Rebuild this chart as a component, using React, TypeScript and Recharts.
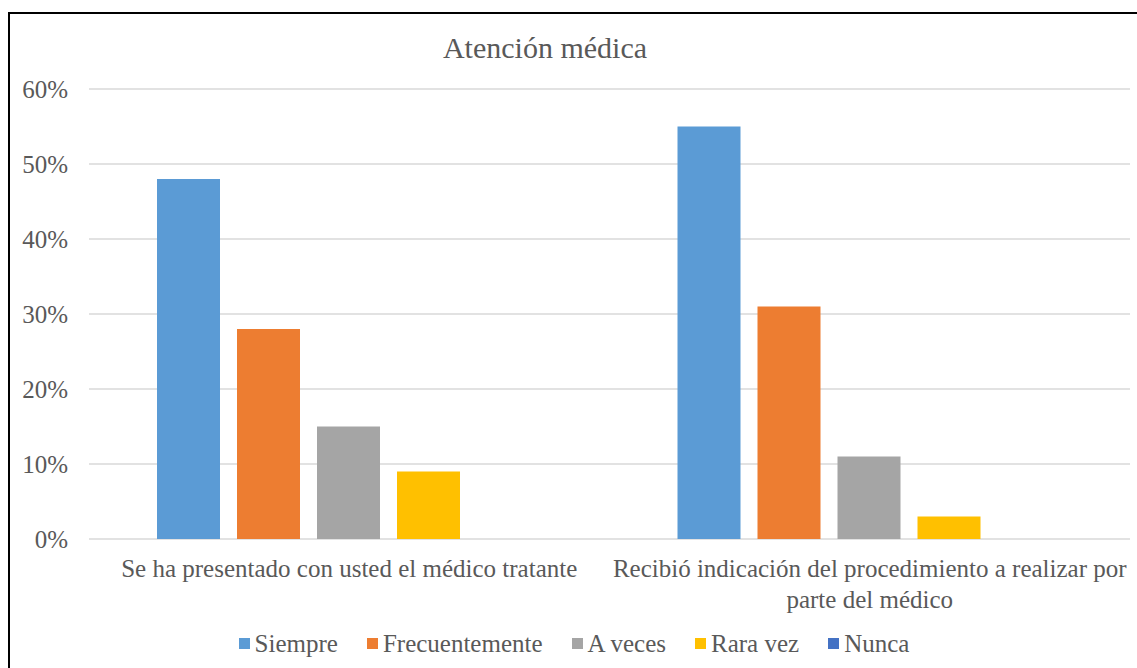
import { Bar, BarChart, CartesianGrid, Customized, Legend, XAxis, YAxis } from 'recharts'

const FONT = 'Liberation Serif, Tinos, Times New Roman, DejaVu Serif, serif'
const TEXT = '#595959'

// categories and the way their labels break into lines
const categories = [
  'Se ha presentado con usted el médico tratante',
  'Recibió indicación del procedimiento a realizar por parte del médico',
]
const categoryLines = [
  ['Se ha presentado con usted el médico tratante'],
  ['Recibió indicación del procedimiento a realizar por', 'parte del médico'],
]

// values in %
const siempre = [48, 55]
const frecuentemente = [28, 31]
const aVeces = [15, 11]
const raraVez = [9, 3]
const nunca = [0, 0]

const yTicks = [0, 10, 20, 30, 40, 50, 60]

const series = [
  { key: 'siempre', name: 'Siempre', color: '#5B9BD5', values: siempre },
  { key: 'frecuentemente', name: 'Frecuentemente', color: '#ED7D31', values: frecuentemente },
  { key: 'aVeces', name: 'A veces', color: '#A5A5A5', values: aVeces },
  { key: 'raraVez', name: 'Rara vez', color: '#FFC000', values: raraVez },
  { key: 'nunca', name: 'Nunca', color: '#4472C4', values: nunca },
]

const data = categories.map((name, i) => {
  const row: Record<string, string | number> = { name }
  series.forEach((s) => { row[s.key] = s.values[i] })
  return row
})

const CategoryTick = ({ x, y, payload }: any) => {
  const idx = categories.indexOf(payload.value)
  const lines = idx >= 0 ? categoryLines[idx] : [payload.value]
  return (
    <text x={x} y={y} textAnchor="middle" fill={TEXT} style={{ fontFamily: FONT, fontSize: 25 }}>
      {lines.map((l, i) => (
        <tspan key={i} x={x} dy={i === 0 ? 30 : 31}>{l}</tspan>
      ))}
    </text>
  )
}

const LegendContent = () => (
  <div style={{ display: 'flex', justifyContent: 'center', alignItems: 'center', height: 50, gap: 29, paddingLeft: 8 }}>
    {series.map((s) => (
      <div key={s.key} style={{ display: 'flex', alignItems: 'center', gap: 5 }}>
        <span style={{ width: 11, height: 11, background: s.color, display: 'inline-block' }} />
        <span style={{ fontFamily: FONT, fontSize: 25, color: TEXT, lineHeight: '25px' }}>{s.name}</span>
      </div>
    ))}
  </div>
)

const Title = () => (
  <text x={535} y={44} textAnchor="middle" fill={TEXT} style={{ fontFamily: FONT, fontSize: 30 }}>
    Atención médica
  </text>
)

export default function App() {
  return (
    <div style={{
      position: 'absolute', left: 8, top: 12, width: 1129, height: 656,
      borderTop: '2px solid #000', borderLeft: '2px solid #000', background: '#fff', overflow: 'hidden',
      fontFamily: FONT,
    }}>
      <BarChart
        width={1127}
        height={654}
        data={data}
        margin={{ top: 75, right: 7, bottom: 0, left: 0 }}
        barCategoryGap={68}
        barGap={17}
        style={{ fontFamily: FONT }}
      >
        <CartesianGrid vertical={false} stroke="#d9d9d9" strokeWidth={1.5} />
        <XAxis dataKey="name" tickLine={false} axisLine={false} height={79} interval={0} tick={<CategoryTick />} />
        <YAxis
          width={79}
          domain={[0, 60]}
          ticks={yTicks}
          tickLine={false}
          axisLine={false}
          tickMargin={15}
          tickFormatter={(v) => `${v}%`}
          tick={{ fontSize: 25, fill: TEXT, fontFamily: FONT }}
        />
        <Legend verticalAlign="bottom" height={50} content={<LegendContent />} />
        {series.map((s) => (
          <Bar key={s.key} dataKey={s.key} name={s.name} fill={s.color} isAnimationActive={false} />
        ))}
        <Customized component={Title} />
      </BarChart>
    </div>
  )
}
